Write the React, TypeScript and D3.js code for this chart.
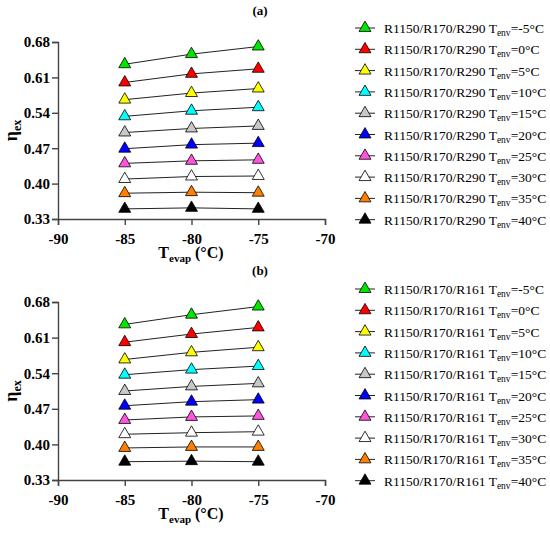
import { useRef, useLayoutEffect } from "react";
import * as d3 from "d3";

const tEvap = [-85, -80, -75];
const tEnv = [-5, 0, 5, 10, 15, 20, 25, 30, 35, 40];
const colors = ["#00e600", "#ff0000", "#ffff00", "#00ffff", "#c8c8c8", "#0000ff", "#ff55dd", "#ffffff", "#ff7f00", "#000000"];
const yTicks = [0.33, 0.4, 0.47, 0.54, 0.61, 0.68];
const xTicks = [-90, -85, -80, -75, -70];

// eta_ex for R1150/R170/R290, one row per T_env
const r290 = [
  [0.636, 0.656, 0.671],
  [0.6, 0.617, 0.627],
  [0.566, 0.579, 0.588],
  [0.533, 0.544, 0.551],
  [0.501, 0.509, 0.514],
  [0.469, 0.477, 0.48],
  [0.44, 0.445, 0.447],
  [0.409, 0.414, 0.415],
  [0.381, 0.383, 0.382],
  [0.35, 0.352, 0.35],
];

// eta_ex for R1150/R170/R161
const r161 = [
  [0.636, 0.655, 0.671],
  [0.601, 0.617, 0.63],
  [0.567, 0.581, 0.591],
  [0.537, 0.547, 0.554],
  [0.505, 0.514, 0.52],
  [0.476, 0.484, 0.488],
  [0.448, 0.454, 0.456],
  [0.42, 0.423, 0.425],
  [0.393, 0.395, 0.395],
  [0.366, 0.367, 0.366],
];

const panels = [
  { tag: "(a)", mix: "R1150/R170/R290", data: r290, top: 42, bottom: 219, legendTop: 28 },
  { tag: "(b)", mix: "R1150/R170/R161", data: r161, top: 302, bottom: 480, legendTop: 289 },
];

const FONT = "Liberation Serif, Times New Roman, serif";

export default function App() {
  const svgRef = useRef<SVGSVGElement | null>(null);

  useLayoutEffect(() => {
    if (!svgRef.current) return;
    const svg = d3.select(svgRef.current);
    svg.selectAll("*").remove();

    const tri = d3.symbol().type(d3.symbolTriangle).size(62);
    const axisColor = "#444";

    panels.forEach((p) => {
      const x = d3.scaleLinear().domain([-90, -70]).range([58, 325]);
      const y = d3.scaleLinear().domain([0.33, 0.68]).range([p.bottom, p.top]);
      const g = svg.append("g").style("font-family", FONT);

      // x axis (plain hyphen for negatives, like the original)
      const xa = g.append("g").attr("transform", `translate(0,${p.bottom})`)
        .call(d3.axisBottom(x).tickValues(xTicks).tickSize(6).tickFormat((d) => String(d)));
      // y axis
      const ya = g.append("g").attr("transform", `translate(58,0)`)
        .call(d3.axisLeft(y).tickValues(yTicks).tickSize(6).tickFormat((d) => (+d).toFixed(2)));
      [xa, ya].forEach((a) => {
        a.select(".domain").attr("stroke", axisColor).attr("stroke-width", 1.4);
        a.selectAll(".tick line").attr("stroke", axisColor).attr("stroke-width", 1.4);
        a.selectAll(".tick text").attr("fill", "#000")
          .style("font-family", FONT).style("font-weight", "bold").style("font-size", "15px");
      });
      xa.selectAll(".tick text").attr("dy", "1.05em");
      ya.selectAll(".tick text").attr("x", -8);

      // panel tag
      g.append("text").attr("x", 260).attr("y", p.top - 27).attr("text-anchor", "middle")
        .style("font-weight", "bold").style("font-size", "13px").text(p.tag);

      // axis titles
      const xl = g.append("text").attr("x", 191).attr("y", p.bottom + 39).attr("text-anchor", "middle")
        .style("font-weight", "bold").style("font-size", "16px");
      xl.append("tspan").text("T");
      xl.append("tspan").style("font-size", "11px").attr("dy", 4).text("evap");
      xl.append("tspan").attr("dy", -4).text(" (°C)");

      const yl = g.append("text")
        .attr("transform", `translate(17,${(p.top + p.bottom) / 2}) rotate(-90)`)
        .attr("text-anchor", "middle")
        .style("font-weight", "bold").style("font-size", "18px");
      yl.append("tspan").text("η");
      yl.append("tspan").style("font-size", "12px").attr("dy", 4).text("ex");

      const line = d3.line<number>().x((_, i) => x(tEvap[i])).y((d) => y(d));

      p.data.forEach((row, k) => {
        g.append("path").attr("d", line(row)).attr("fill", "none")
          .attr("stroke", "#222").attr("stroke-width", 1);
        g.selectAll(null).data(row).enter().append("path")
          .attr("d", tri)
          .attr("transform", (d, i) => `translate(${x(tEvap[i])},${y(d)})`)
          .attr("fill", colors[k]).attr("stroke", "#000").attr("stroke-width", 0.8);

        // legend entry
        const ly = p.legendTop + k * 21.3;
        const lg = g.append("g").attr("transform", `translate(365,${ly})`);
        lg.append("line").attr("x1", -10).attr("x2", 10).attr("stroke", "#222").attr("stroke-width", 1);
        lg.append("path").attr("d", tri).attr("fill", colors[k]).attr("stroke", "#000").attr("stroke-width", 0.8);
        const t = lg.append("text").attr("x", 19).attr("y", 5).style("font-size", "13.5px");
        t.append("tspan").text(`${p.mix} T`);
        t.append("tspan").style("font-size", "9.5px").attr("dy", 3).text("env");
        t.append("tspan").attr("dy", -3).text(`=${tEnv[k]}°C`);
      });
    });
  }, []);

  return (
    <svg ref={svgRef} width={550} height={533}
      style={{ position: "absolute", left: 0, top: 0, background: "#fff" }} />
  );
}
